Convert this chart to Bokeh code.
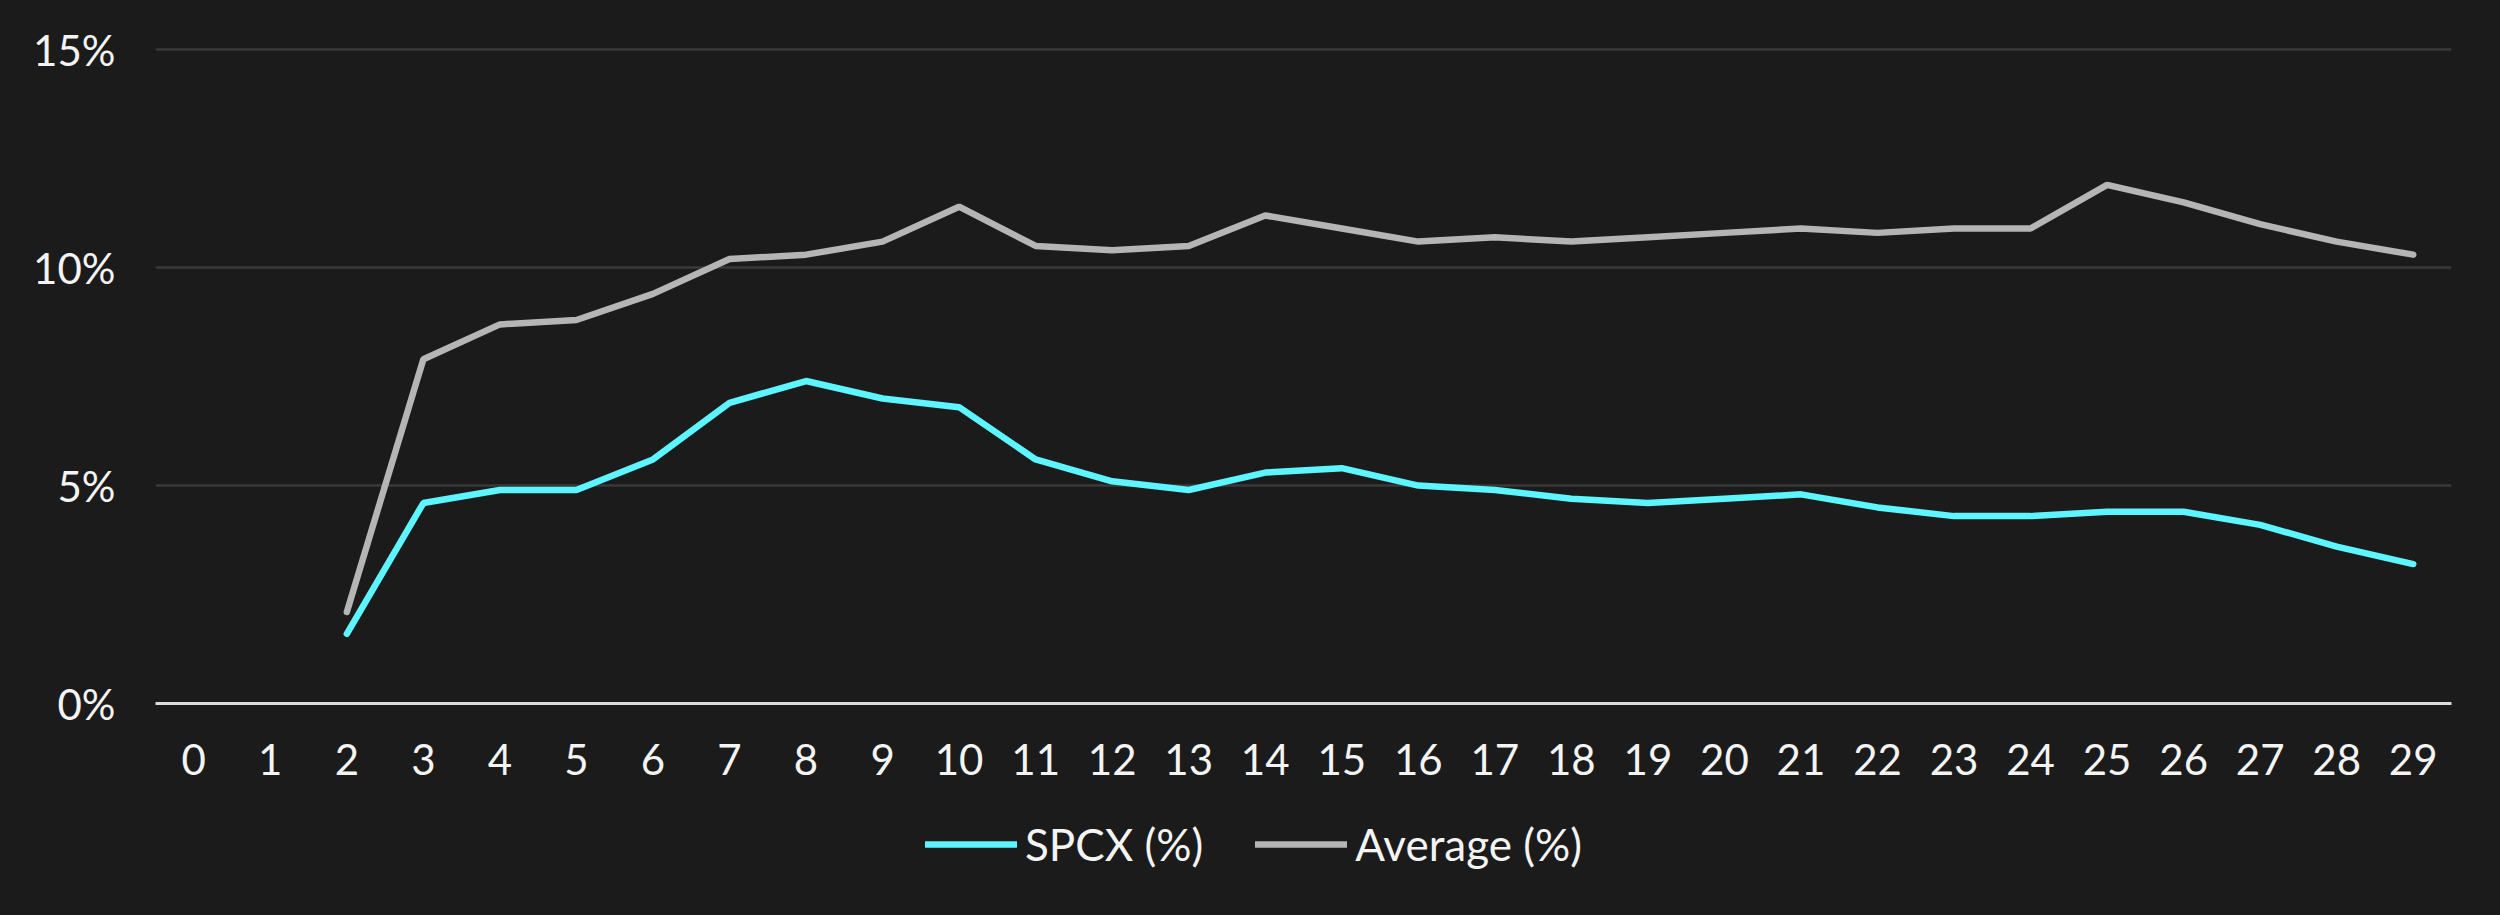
from bokeh.plotting import figure
from bokeh.layouts import column
from bokeh.models import Range1d, FixedTicker, PrintfTickFormatter, Legend, LegendItem
from bokeh.embed import file_html
from bokeh.resources import INLINE

# ---- data ----
periods = list(range(2, 30))
spcx = [1.6, 4.6, 4.9, 4.9, 5.6, 6.9, 7.4, 7.0, 6.8, 5.6, 5.1, 4.9, 5.3, 5.4,
        5.0, 4.9, 4.7, 4.6, 4.7, 4.8, 4.5, 4.3, 4.3, 4.4, 4.4, 4.1, 3.6, 3.2]
average = [2.1, 7.9, 8.7, 8.8, 9.4, 10.2, 10.3, 10.6, 11.4, 10.5, 10.4, 10.5, 11.2, 10.9,
           10.6, 10.7, 10.6, 10.7, 10.8, 10.9, 10.8, 10.9, 10.9, 11.9, 11.5, 11.0, 10.6, 10.3]
x_ticks = list(range(0, 30))
y_ticks = [0, 5, 10, 15]
series_names = ["SPCX (%)", "Average (%)"]
series_colors = ["#5df5ff", "#b5b5b5"]

BG = "#1b1b1b"
FONT = "Lato"
LW = 6.5

p = figure(width=2500, height=790, output_backend="svg", toolbar_location=None,
           x_range=Range1d(-0.5, 29.5), y_range=Range1d(0, 15.1),
           min_border_left=155, min_border_right=49, min_border_top=45, min_border_bottom=87)
p.background_fill_color = BG
p.border_fill_color = BG
p.outline_line_color = None

p.line(periods, spcx, line_color=series_colors[0], line_width=LW, line_cap="round")
p.line(periods, average, line_color=series_colors[1], line_width=LW, line_cap="round")

# axes
p.xaxis.ticker = FixedTicker(ticks=x_ticks)
p.yaxis.ticker = FixedTicker(ticks=y_ticks)
p.yaxis.formatter = PrintfTickFormatter(format="%d%%")
for ax in (p.xaxis, p.yaxis):
    ax.major_tick_line_color = None
    ax.minor_tick_line_color = None
    ax.major_label_text_font = FONT
    ax.major_label_text_font_size = "42px"
    ax.major_label_text_color = "#f4f4f4"
p.yaxis.axis_line_color = None
p.yaxis.major_label_standoff = 34
p.xaxis.axis_line_color = "#dcdcdc"
p.xaxis.axis_line_width = 3
p.xaxis.major_label_standoff = 34

p.xgrid.grid_line_color = None
p.ygrid.grid_line_color = "#3a3a3a"
p.ygrid.grid_line_width = 2.5
p.ygrid.ticker = FixedTicker(ticks=[5, 10, 15])

# ---- legend strip below the chart ----
lg = figure(width=2500, height=125, output_backend="svg", toolbar_location=None,
            x_range=Range1d(0, 1), y_range=Range1d(0, 1),
            min_border_left=0, min_border_right=0, min_border_top=0, min_border_bottom=0)
lg.background_fill_color = BG
lg.border_fill_color = BG
lg.outline_line_color = None
lg.axis.visible = False
lg.grid.visible = False
# legend keys: lines that lie outside the visible range
k1 = lg.line([5, 6], [5, 6], line_color=series_colors[0], line_width=LW, line_cap="round")
k2 = lg.line([5, 6], [5, 6], line_color=series_colors[1], line_width=LW, line_cap="round")

legend = Legend(items=[LegendItem(label=series_names[0], renderers=[k1]),
                       LegendItem(label=series_names[1], renderers=[k2])],
                orientation="horizontal", location=(770, 45))
legend.background_fill_alpha = 0
legend.border_line_color = None
legend.padding = 0
legend.margin = 0
legend.glyph_width = 92
legend.glyph_height = 50
legend.label_height = 50
legend.label_standoff = 8
legend.spacing = 52
legend.label_text_font = FONT
legend.label_text_font_size = "44px"
legend.label_text_color = "#f4f4f4"
lg.add_layout(legend, "center")

layout = column(p, lg, spacing=0)
html = file_html(layout, INLINE)
html = html.replace("<head>", "<head><style>html,body{background:#1b1b1b;}</style>", 1)
open("out.html", "w").write(html)
